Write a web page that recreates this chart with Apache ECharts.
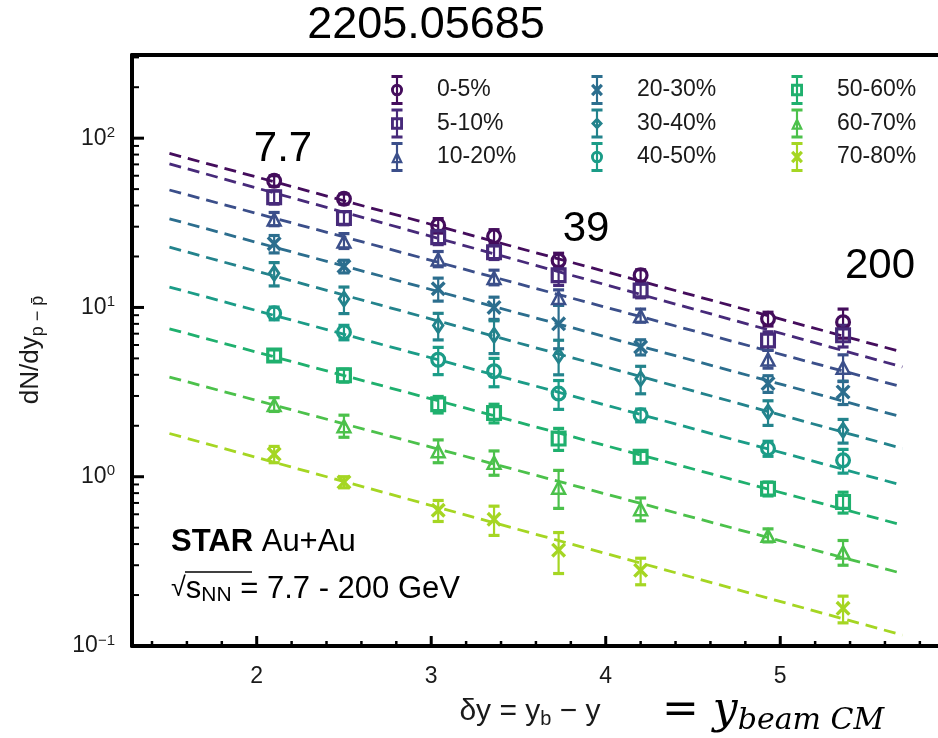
<!DOCTYPE html>
<html><head><meta charset="utf-8">
<script src="https://cdn.jsdelivr.net/npm/echarts@6/dist/echarts.min.js"></script>
<style>html,body{margin:0;padding:0;background:#fff}#c{width:938px;height:738px}</style>
</head><body><div id="c"></div>
<script>
// ---------------- data ----------------
const dy = [2.10, 2.50, 3.04, 3.36, 3.73, 4.20, 4.93, 5.36];
const centralities = ['0-5%', '5-10%', '10-20%', '20-30%', '30-40%', '40-50%', '50-60%', '60-70%', '70-80%'];
const colors = ['#440d5c', '#472a7a', '#3b4f8a', '#2c6e8e', '#23838c', '#1b9c87', '#1fb06e', '#4cc14b', '#a5d623'];
const shapes = ['circle', 'square', 'triangle', 'cross', 'diamond', 'circle', 'square', 'triangle', 'cross'];

const val_00_05 = [56, 43.8, 30.5, 26.3, 18.9, 15.5, 8.57, 8.18];
const val_05_10 = [44.8, 33.8, 26, 21.2, 15.5, 12.6, 6.38, 6.84];
const val_10_20 = [33.4, 24.8, 19.4, 15.1, 11.5, 8.98, 4.98, 4.45];
const val_20_30 = [23.8, 17.5, 12.9, 10.0, 8.0, 5.84, 3.55, 3.17];
const val_30_40 = [15.9, 11.2, 7.83, 6.84, 5.2, 3.79, 2.41, 1.88];
const val_40_50 = [9.25, 7.14, 4.91, 4.2, 3.1, 2.31, 1.47, 1.25];
const val_50_60 = [5.21, 3.97, 2.68, 2.38, 1.68, 1.31, 0.85, 0.71];
const val_60_70 = [2.68, 2.01, 1.43, 1.22, 0.87, 0.649, 0.452, 0.36];
const val_70_80 = [1.36, 0.93, 0.634, 0.56, 0.368, 0.28, null, 0.167];

const err_00_05 = [4, 3, 3, 2.5, 2, 1.2, 0.8, 1.6];
const err_05_10 = [4, 3, 2.5, 2, 2, 1.2, 0.8, 1.0];
const err_10_20 = [3, 2.5, 2, 1.5, 1.2, 0.8, 0.6, 0.8];
const err_20_30 = [2.8, 1.5, 2, 1.5, 2.3, 0.6, 0.4, 0.5];
const err_30_40 = [2.5, 2, 1.4, 1.5, 1.2, 0.7, 0.4, 0.3];
const err_40_50 = [0.8, 0.7, 0.9, 0.8, 0.6, 0.2, 0.15, 0.2];
const err_50_60 = [0.4, 0.35, 0.3, 0.3, 0.25, 0.1, 0.08, 0.1];
const err_60_70 = [0.25, 0.3, 0.22, 0.2, 0.22, 0.1, 0.04, 0.06];
const err_70_80 = [0.15, 0.07, 0.09, 0.11, 0.1, 0.05, null, 0.03];

// exponential fits, evaluated at the ends of the drawn range
const fitX = [1.5, 5.7];
const fitStart = [81.3, 70.5, 49.4, 33.4, 22.7, 13.2, 7.48, 3.88, 1.80];
const fitEnd = [5.45, 4.45, 3.39, 2.25, 1.47, 0.89, 0.518, 0.268, 0.116];

// axis ticks / labels
const xLabels = [2, 3, 4, 5];
const xMinor = [1.4, 1.6, 1.8, 2.2, 2.4, 2.6, 2.8, 3.2, 3.4, 3.6, 3.8, 4.2, 4.4, 4.6, 4.8, 5.2, 5.4, 5.6, 5.8];
const yLabels = [0.1, 1, 10, 100];
const yMinor = [0.2, 0.3, 0.4, 0.5, 0.6, 0.7, 0.8, 0.9, 2, 3, 4, 5, 6, 7, 8, 9, 20, 30, 40, 50, 60, 70, 80, 90, 200, 300];

const allVals = [val_00_05, val_05_10, val_10_20, val_20_30, val_30_40, val_40_50, val_50_60, val_60_70, val_70_80];
const allErrs = [err_00_05, err_05_10, err_10_20, err_20_30, err_30_40, err_40_50, err_50_60, err_60_70, err_70_80];

// ---------------- symbols ----------------
const X_MIN = 1.2854, X_MAX = 5.904, Y_MIN = 0.1, Y_MAX = 310;
function shapePts(kind, t) {
  // t = ring thickness (units of a 100 box)
  if (kind === 'square') return [[[0,0],[100,0],[100,100],[0,100]], [[t,t],[t,100-t],[100-t,100-t],[100-t,t]]];
  if (kind === 'triangle') {
    const r = 30.9, cy = 69.1, k = (r - t) / r;
    return [[[50,0],[100,100],[0,100]], [[50, cy - cy*k], [50 - 50*k, cy + r*k], [50 + 50*k, cy + r*k]]];
  }
  if (kind === 'diamond') { const k = t*1.35; return [[[50,0],[100,50],[50,100],[0,50]], [[50,k],[k,50],[50,100-k],[100-k,50]]]; }
  const w = t*0.8;
  return [[[0,w],[w,0],[50,50-w],[100-w,0],[100,w],[50+w,50],[100,100-w],[100-w,100],[50,50+w],[w,100],[0,100-w],[50-w,50]]];
}
function f(n){ return (+n).toFixed(1); }
function shapePath(kind, ox, oy, sx, sy, t) {
  if (kind === 'circle') {
    const cx = ox + 50*sx, cy = oy + 50*sy, R = 50*sx, Ry = 50*sy, r = (50-t)*sx, ry = (50-t)*sy;
    return `M${f(cx-R)},${f(cy)}A${f(R)},${f(Ry)} 0 1 1 ${f(cx+R)},${f(cy)}A${f(R)},${f(Ry)} 0 1 1 ${f(cx-R)},${f(cy)}Z` +
           `M${f(cx-r)},${f(cy)}A${f(r)},${f(ry)} 0 1 0 ${f(cx+r)},${f(cy)}A${f(r)},${f(ry)} 0 1 0 ${f(cx-r)},${f(cy)}Z`;
  }
  const tt = kind === 'triangle' ? t * 0.75 : t;
  return shapePts(kind, tt).map(pts => 'M' + pts.map(p => f(ox+p[0]*sx)+','+f(oy+p[1]*sy)).join('L') + 'Z').join('');
}
function rect(x0,y0,x1,y1){ return `M${x0},${y0}L${x1},${y0}L${x1},${y1}L${x0},${y1}Z`; }
function legendIcon(kind) {
  return 'path://' + rect(41,0,59,250) + rect(4,0,96,24) + rect(4,226,96,250) + shapePath(kind, 0, 72, 1, 1.06, 24);
}
const SYMBOL_SIZE = {circle:[16,16], square:[16,16], triangle:[17,16], cross:[15,15], diamond:[13,19]};

// ---------------- series ----------------
const series = [];
centralities.forEach((name, i) => {
  const col = colors[i];
  series.push({
    type: 'line', name: name + ' fit', data: [[fitX[0], fitStart[i]], [fitX[1], fitEnd[i]]],
    showSymbol: false, symbol: 'none', silent: true, z: 2,
    lineStyle: {color: col, width: 2.8, type: [12, 7]}
  });
  const eb = [];
  dy.forEach((x, k) => { if (allVals[i][k] != null) eb.push([x, allVals[i][k], allErrs[i][k]]); });
  series.push({
    type: 'custom', name: name + ' err', data: eb, z: 3, silent: true, clip: false,
    renderItem: (params, api) => {
      const x = api.value(0), y = api.value(1), e = api.value(2);
      const t = api.coord([x, y + e]), b = api.coord([x, y - e]);
      const cw = 5.5;
      return {type: 'group', children: [
        {type: 'line', shape: {x1: t[0], y1: t[1], x2: b[0], y2: b[1]}, style: {stroke: col, lineWidth: 2.2}},
        {type: 'line', shape: {x1: t[0]-cw, y1: t[1], x2: t[0]+cw, y2: t[1]}, style: {stroke: col, lineWidth: 3.2}},
        {type: 'line', shape: {x1: b[0]-cw, y1: b[1], x2: b[0]+cw, y2: b[1]}, style: {stroke: col, lineWidth: 3.2}}
      ]};
    }
  });
  const pts = [];
  dy.forEach((x, k) => { if (allVals[i][k] != null) pts.push([x, allVals[i][k]]); });
  series.push({
    type: 'scatter', name: name, data: pts, z: 4, silent: true,
    symbol: 'path://' + shapePath(shapes[i], 0, 0, 1, 1, 20),
    symbolSize: SYMBOL_SIZE[shapes[i]],
    itemStyle: {color: col, opacity: 1}
  });
});
// minor / major ticks drawn through the axes' scales
series.push({
  type: 'custom', name: 'yticks', silent: true, clip: false, z: 6,
  data: yMinor.map(v => [v, 0]).concat(yLabels.map(v => [v, 1])),
  encode: {x: -1, y: -1},
  renderItem: (params, api) => {
    const v = api.value(0), major = api.value(1) === 1;
    const p = api.coord([X_MIN, v]);
    const len = major ? 12 : 7;
    return {type: 'line', shape: {x1: p[0], y1: p[1], x2: p[0] + len, y2: p[1]},
            style: {stroke: '#000', lineWidth: major ? 3 : 2}};
  }
});
series.push({
  type: 'custom', name: 'xticks', silent: true, clip: false, z: 6,
  data: xMinor.map(v => [v, 0]).concat(xLabels.map(v => [v, 1])),
  encode: {x: -1, y: -1},
  renderItem: (params, api) => {
    const v = api.value(0), major = api.value(1) === 1;
    const p = api.coord([v, Y_MIN]);
    const len = major ? 10 : 5;
    return {type: 'line', shape: {x1: p[0], y1: p[1], x2: p[0], y2: p[1] - len},
            style: {stroke: '#000', lineWidth: major ? 3 : 2.5}};
  }
});

const FONT = "'Liberation Sans', Arial, Helvetica, sans-serif";
const SERIF = "'DejaVu Serif', 'Liberation Serif', serif";

function legendFor(idx, left) {
  return {
    orient: 'vertical', left: left, top: 70, itemWidth: 12, itemHeight: 30, itemGap: 3.5,
    selectedMode: false,
    textStyle: {fontFamily: FONT, fontSize: 23, color: '#1a1a1a', padding: [0, 0, 0, 29]},
    data: idx.map(i => ({name: centralities[i], icon: legendIcon(shapes[i]), itemStyle: {color: colors[i]}}))
  };
}

const option = {
  animation: false,
  backgroundColor: '#fff',
  grid: {left: 132, right: 0, top: 55, bottom: 92, containLabel: false},
  legend: [legendFor([0,1,2], 386), legendFor([3,4,5], 586), legendFor([6,7,8], 786)],
  xAxis: [{
    type: 'value', min: X_MIN, max: X_MAX, position: 'bottom',
    axisLine: {show: true, onZero: false, lineStyle: {color: '#000', width: 4}},
    axisTick: {show: false},
    splitLine: {show: false},
    axisLabel: {customValues: xLabels, margin: 19, fontFamily: FONT, fontSize: 23, color: '#1a1a1a',
                formatter: v => String(Math.round(v))}
  }, {
    type: 'value', min: X_MIN, max: X_MAX, position: 'top',
    axisLine: {show: true, onZero: false, lineStyle: {color: '#000', width: 4}},
    axisTick: {show: false}, axisLabel: {show: false}, splitLine: {show: false}
  }],
  yAxis: {
    type: 'log', logBase: 10, min: Y_MIN, max: Y_MAX,
    axisLine: {show: true, onZero: false, lineStyle: {color: '#000', width: 4}},
    axisTick: {show: false},
    splitLine: {show: false}, minorSplitLine: {show: false},
    axisLabel: {customValues: yLabels, margin: 17, fontFamily: FONT, fontSize: 23, color: '#1a1a1a',
      formatter: v => {
        const e = Math.round(Math.log10(v));
        if (Math.abs(Math.log10(v) - e) > 1e-6) return '';
        return '{b|10}{s|' + (e < 0 ? '\u2212' + (-e) : e) + '}';
      },
      rich: {b: {fontFamily: FONT, fontSize: 23, lineHeight: 26, color: '#1a1a1a'},
             s: {fontFamily: FONT, fontSize: 15, lineHeight: 16, verticalAlign: 'top', color: '#1a1a1a'}}
    }
  },
  series: series,
  graphic: [
    {type: 'text', x: 426, y: 26, style: {text: '2205.05685', font: `45px ${FONT}`, fill: '#000', align: 'center', verticalAlign: 'middle'}},
    {type: 'text', x: 283, y: 149, style: {text: '7.7', font: `42px ${FONT}`, fill: '#000', align: 'center', verticalAlign: 'middle'}},
    {type: 'text', x: 586, y: 229, style: {text: '39', font: `42px ${FONT}`, fill: '#000', align: 'center', verticalAlign: 'middle'}},
    {type: 'text', x: 880, y: 266, style: {text: '200', font: `42px ${FONT}`, fill: '#000', align: 'center', verticalAlign: 'middle'}},
    {type: 'text', x: 31, y: 350, rotation: Math.PI / 2,
      style: {text: '{m|dN/dy}{s|p \u2212 p\u0304}', align: 'center', verticalAlign: 'middle', fill: '#1a1a1a',
        rich: {m: {fontFamily: FONT, fontSize: 26, lineHeight: 32},
               s: {fontFamily: FONT, fontSize: 18, lineHeight: 28, verticalAlign: 'bottom'}}}},
    {type: 'text', x: 530, y: 712,
      style: {text: '{m|\u03B4y = y}{s|b}{m| \u2212 y}', align: 'center', verticalAlign: 'middle', fill: '#1a1a1a',
        rich: {m: {fontFamily: FONT, fontSize: 30, lineHeight: 34}, s: {fontFamily: FONT, fontSize: 20, lineHeight: 30, verticalAlign: 'bottom'}}}},
    {type: 'text', x: 662, y: 712,
      style: {text: '{e|= }{y|y}{s|beam CM}', align: 'left', verticalAlign: 'middle', fill: '#000',
        rich: {e: {fontFamily: SERIF, fontSize: 44, lineHeight: 48},
               y: {fontFamily: SERIF, fontStyle: 'italic', fontSize: 44, lineHeight: 48},
               s: {fontFamily: SERIF, fontStyle: 'italic', fontSize: 30, lineHeight: 40, verticalAlign: 'bottom'}}}},
    {type: 'text', x: 171, y: 542,
      style: {text: '{b|STAR}{n| Au+Au}', align: 'left', verticalAlign: 'middle', fill: '#000',
        rich: {b: {fontFamily: FONT, fontWeight: 'bold', fontSize: 31}, n: {fontFamily: FONT, fontSize: 31}}}},
    {type: 'text', x: 171, y: 589,
      style: {text: '{r|\u221A}{s|s}{ss|NN}{n| = 7.7 - 200 GeV}', align: 'left', verticalAlign: 'middle', fill: '#000',
        rich: {r: {fontFamily: FONT, fontSize: 27, lineHeight: 34}, s: {fontFamily: FONT, fontSize: 31, lineHeight: 34},
               ss: {fontFamily: FONT, fontSize: 21, lineHeight: 28, verticalAlign: 'bottom'},
               n: {fontFamily: FONT, fontSize: 31, lineHeight: 34}}}},
    {type: 'line', shape: {x1: 185, y1: 572, x2: 252, y2: 572}, style: {stroke: '#000', lineWidth: 1.5}}
  ]
};
const chart = echarts.init(document.getElementById('c'));
chart.setOption(option);
</script></body></html>
